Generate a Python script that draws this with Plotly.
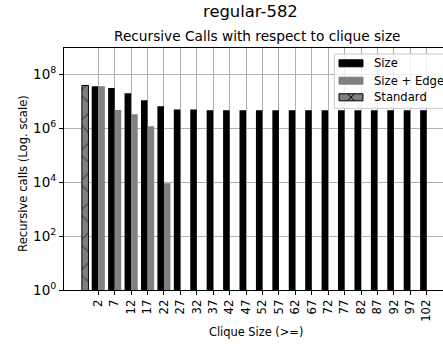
import plotly.graph_objects as go

clique_sizes = [2, 7, 12, 17, 22, 27, 32, 37, 42, 47, 52, 57, 62, 67, 72, 77, 82, 87, 92, 97, 102]
tick_labels = [str(c) for c in clique_sizes]
size_calls = [3.6e7, 3.1e7, 2.0e7, 1.1e7, 6.6e6, 5.0e6, 5.0e6, 4.7e6, 4.7e6, 4.7e6, 4.7e6,
              4.7e6, 4.7e6, 4.7e6, 4.7e6, 4.7e6, 4.7e6, 4.7e6, 4.7e6, 4.7e6, 4.7e6]
size_edge_x = [2, 7, 12, 17, 22]
size_edge_calls = [3.6e7, 4.8e6, 3.3e6, 1.18e6, 9.1e3]
standard_x = [-2]
standard_calls = [3.9e7]

FONT = "DejaVu Sans"
GRAY = "#808080"

fig = go.Figure()
fig.add_trace(go.Bar(x=clique_sizes, y=size_calls, width=2, offset=-2,
                     marker=dict(color="black", line=dict(width=0)), name="Size"))
fig.add_trace(go.Bar(x=size_edge_x, y=size_edge_calls, width=2, offset=0,
                     marker=dict(color=GRAY, line=dict(width=0)), name="Size + Edge"))
fig.add_trace(go.Bar(x=standard_x, y=standard_calls, width=2, offset=-1,
                     marker=dict(color=GRAY, line=dict(width=1, color="black"),
                                 pattern=dict(shape="x", size=21.15, solidity=0.1,
                                              fgcolor="black", bgcolor=GRAY)),
                     name="Standard"))

fig.update_layout(
    width=443, height=344,
    margin=dict(l=64, r=0, t=48, b=54, autoexpand=False),
    paper_bgcolor="white", plot_bgcolor="white",
    barmode="overlay", showlegend=False,
    font=dict(family=FONT, size=11.4, color="black"),
)
fig.update_xaxes(range=[-8.44, 106.96], tickvals=clique_sizes, ticktext=tick_labels,
                 tickangle=-90, ticks="outside", ticklen=4, tickcolor="black",
                 showgrid=True, gridcolor="#b0b0b0", gridwidth=0.8,
                 showline=True, linecolor="black", linewidth=1, mirror=True,
                 zeroline=False, tickfont=dict(size=11.6), automargin=False)
fig.update_yaxes(type="log", range=[0, 8.98],
                 tickvals=[1, 1e2, 1e4, 1e6, 1e8],
                 ticktext=["10<sup>0</sup>", "10<sup>2</sup>", "10<sup>4</sup>",
                           "10<sup>6</sup>", "10<sup>8</sup>"],
                 ticks="outside", ticklen=4, tickcolor="black",
                 showgrid=True, gridcolor="#b0b0b0", gridwidth=0.8,
                 showline=True, linecolor="black", linewidth=1,
                 zeroline=False, tickfont=dict(size=13.5), automargin=False)

ann = [
    dict(text="regular-582", x=0.4934, y=1.149, font=dict(size=16.4)),
    dict(text="Recursive Calls with respect to clique size", x=0.5106, y=1.0496, font=dict(size=13.7)),
    dict(text="Clique Size (>=)", x=0.4934 + 0.014, y=-0.1736, font=dict(size=11.4)),
    dict(text="Recursive calls (Log. scale)", x=-0.108, y=0.48, textangle=-90, font=dict(size=11.6)),
]
for a in ann:
    fig.add_annotation(xref="paper", yref="paper", showarrow=False,
                       xanchor="center", yanchor="middle", **a)

# legend box
fig.add_shape(type="rect", xref="paper", yref="paper", x0=0.7132, x1=1.06, y0=0.7508, y1=0.975,
              line=dict(color="#cccccc", width=1), fillcolor="rgba(255,255,255,0.8)", layer="above")
legend_items = ["Size", "Size + Edge", "Standard"]
legend_colors = ["black", GRAY, GRAY]
legend_rows = [0.9368, 0.865, 0.7963]
for name, col, yy in zip(legend_items, legend_colors, legend_rows):
    h = 0.0145
    fig.add_shape(type="rect", xref="paper", yref="paper", x0=0.7256, x1=0.7889,
                  y0=yy - h, y1=yy + h, fillcolor=col,
                  line=dict(color="black" if name == "Standard" else col, width=1), layer="above")
    fig.add_annotation(xref="paper", yref="paper", x=0.8119, y=yy, text=name, showarrow=False,
                       xanchor="left", yanchor="middle", font=dict(size=11.6))
# hatch cross in the Standard swatch
yy = legend_rows[2]
fig.add_shape(type="path", xref="paper", yref="paper",
              path=f"M 0.7480,{yy - 0.0145} L 0.7665,{yy + 0.0145} M 0.7480,{yy + 0.0145} L 0.7665,{yy - 0.0145}",
              line=dict(color="black", width=1), layer="above")

fig.write_html("out.html", config={"displayModeBar": False},
               post_script="document.body.style.margin='0';document.body.style.overflow='hidden';")
